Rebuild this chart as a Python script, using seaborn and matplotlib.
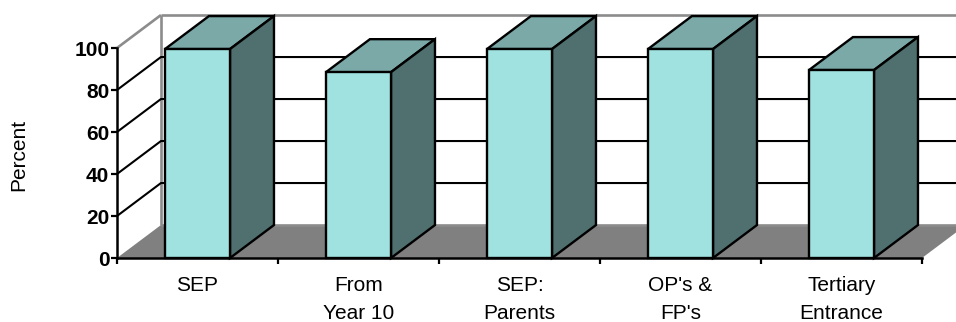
import matplotlib
matplotlib.use("Agg")
import matplotlib.pyplot as plt
from matplotlib.patches import Polygon
import pandas as pd
import seaborn as sns

categories = ["SEP", "From\nYear 10", "SEP:\nParents", "OP's &\nFP's", "Tertiary\nEntrance"]
percent = [99.5, 88.5, 99.5, 99.5, 89.5]
y_ticks = [0, 20, 40, 60, 80, 100]

FACE = "#A0E2E0"
TOP = "#7AA9A8"
SIDE = "#507070"
FLOOR = "#808080"
WALL = "#8C8C8C"

# Oblique projection of the depth axis, in data units
DEPTH_X = 0.273
DEPTH_Y = 15.7
BAR_WIDTH = 0.404
EDGE = 1.7

sns.set_theme(style="white")
plt.rcParams["font.family"] = ["Liberation Sans", "DejaVu Sans"]

W, H = 956, 322
fig = plt.figure(figsize=(W / 100, H / 100), dpi=100)
ax = fig.add_axes([117 / W, 1 - 258 / H, 805 / W, 210 / H])

frame = pd.DataFrame({"category": categories, "percent": percent})
sns.barplot(data=frame, x="category", y="percent", width=BAR_WIDTH, color=FACE,
            saturation=1, edgecolor="black", linewidth=EDGE, ax=ax, zorder=5, clip_on=False)
ax.set_xlim(-0.5, len(categories) - 0.5)
ax.set_ylim(0, 100)

# Floor and back wall
x0, x1 = ax.get_xlim()
ax.add_patch(Polygon([(x0, 0), (x0 + DEPTH_X, DEPTH_Y), (x1 + DEPTH_X, DEPTH_Y), (x1, 0)],
                     closed=True, facecolor=FLOOR, edgecolor="none", zorder=1, clip_on=False))
wall_style = dict(color=WALL, lw=1.9, zorder=2, clip_on=False, solid_capstyle="butt")
ax.plot([x0 + DEPTH_X, x1 + DEPTH_X], [DEPTH_Y, DEPTH_Y], **wall_style)
ax.plot([x0 + DEPTH_X, x1 + DEPTH_X], [100 + DEPTH_Y, 100 + DEPTH_Y], **wall_style)
ax.plot([x0 + DEPTH_X, x0 + DEPTH_X], [DEPTH_Y, 100 + DEPTH_Y], **wall_style)
ax.plot([x0, x0 + DEPTH_X], [100, 100 + DEPTH_Y], **wall_style)

# Gridlines run across the side wall and along the back wall
for tick in y_ticks[1:-1]:
    ax.plot([x0, x0 + DEPTH_X, x1 + DEPTH_X], [tick, tick + DEPTH_Y, tick + DEPTH_Y],
            color="black", lw=1.5, zorder=3, clip_on=False)

# Top and side faces of each bar
half = BAR_WIDTH / 2
for i, value in enumerate(percent):
    left, right = i - half, i + half
    ax.add_patch(Polygon([(left, value), (left + DEPTH_X, value + DEPTH_Y),
                          (right + DEPTH_X, value + DEPTH_Y), (right, value)],
                         closed=True, facecolor=TOP, edgecolor="black", lw=EDGE,
                         joinstyle="miter", zorder=4, clip_on=False))
    ax.add_patch(Polygon([(right, 0), (right + DEPTH_X, DEPTH_Y),
                          (right + DEPTH_X, value + DEPTH_Y), (right, value)],
                         closed=True, facecolor=SIDE, edgecolor="black", lw=EDGE,
                         joinstyle="miter", zorder=4, clip_on=False))

# Axes: ticks between categories, labels at their centres
sns.despine(ax=ax, top=True, right=True)
for side in ("left", "bottom"):
    ax.spines[side].set_color("black")
    ax.spines[side].set_linewidth(1.8)
    ax.spines[side].set_zorder(6)

ax.set_yticks(y_ticks)
ax.set_yticklabels([str(t) for t in y_ticks], fontsize=15, fontweight="bold", color="black")
ax.tick_params(axis="y", left=True, length=4, width=1.6, color="black", pad=1.5)
ax.set_xticks(range(len(categories)))
ax.set_xticklabels(categories, fontsize=15, color="black", linespacing=1.6)
ax.set_xticks([i - 0.5 for i in range(len(categories) + 1)], minor=True)
ax.tick_params(axis="x", which="major", bottom=False, pad=7)
ax.tick_params(axis="x", which="minor", bottom=True, length=4, width=1.6, color="black")
ax.set_xlabel("")
ax.set_ylabel("")
fig.text(19 / W, 1 - 155 / H, "Percent", rotation=90, fontsize=15, color="black",
         ha="center", va="center")

fig.savefig("out.png", dpi=100)
